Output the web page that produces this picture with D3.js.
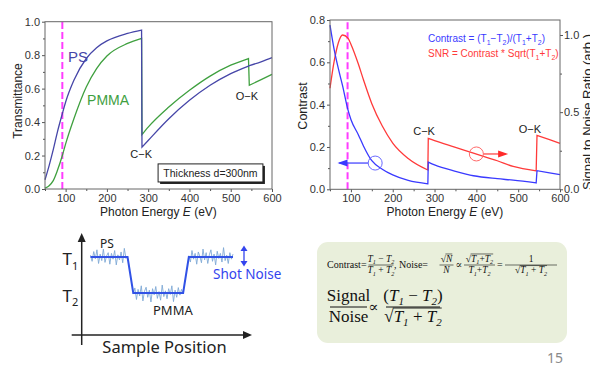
<!DOCTYPE html>
<html>
<head>
<meta charset="utf-8">
<script src="https://cdn.jsdelivr.net/npm/d3@7"></script>
<style>
  body { margin: 0; background: #fff; }
  svg { display: block; }
</style>
</head>
<body>
<svg id="slide" width="590" height="367"></svg>
<script>
const SANS = '"Liberation Sans", Arial, sans-serif';
const SERIF = '"Liberation Serif", "Times New Roman", "DejaVu Serif", serif';
const NOTO = '"Noto Sans", "Open Sans", sans-serif';

// Left panel: transmittance of 300 nm films (photon energy in eV)
const eLow = [50, 60, 70, 80, 92, 100, 120, 150, 175, 200, 250, 284];
const psLow = [0.055, 0.14, 0.235, 0.34, 0.45, 0.52, 0.65, 0.78, 0.845, 0.885, 0.93, 0.95];
const pmmaLow = [0.005, 0.02, 0.05, 0.11, 0.2, 0.27, 0.42, 0.61, 0.72, 0.795, 0.87, 0.9];
const eMid = [285, 300, 350, 400, 450, 500, 543];
const psMid = [0.25, 0.29, 0.42, 0.53, 0.62, 0.69, 0.735];
const pmmaMid = [0.325, 0.37, 0.49, 0.59, 0.675, 0.74, 0.78];
const eHigh = [545, 575, 600];
const psHigh = [0.737, 0.762, 0.785];
const pmmaHigh = [0.62, 0.655, 0.685];

// Right panel: contrast (left axis) and SNR (right axis)
const cE1 = [50, 60, 70, 80, 93, 100, 118, 130, 150, 175, 200, 237, 284];
const contrast1 = [0.776, 0.66, 0.57, 0.49, 0.375, 0.33, 0.257, 0.205, 0.135, 0.095, 0.068, 0.042, 0.026];
const snr1 = [0.655, 0.83, 0.95, 1.0, 0.98, 0.94, 0.81, 0.71, 0.555, 0.41, 0.3, 0.2, 0.125];
const cE2 = [285, 300, 350, 393, 450, 488, 543];
const contrast2 = [0.128, 0.115, 0.085, 0.064, 0.05, 0.043, 0.03];
const snr2 = [0.33, 0.315, 0.272, 0.234, 0.185, 0.148, 0.12];
const cE3 = [545, 575, 600];
const contrast3 = [0.088, 0.078, 0.069];
const snr3 = [0.35, 0.322, 0.298];

const euvEnergy = 92;

// ticks
const eTicks = [100, 200, 300, 400, 500, 600];
const eMinor = [50, 150, 250, 350, 450, 550];
const tTicks = [0, 0.2, 0.4, 0.6, 0.8, 1.0];
const tMinor = [0.1, 0.3, 0.5, 0.7, 0.9];
const cTicks = [0, 0.2, 0.4, 0.6, 0.8];
const cMinor = [0.1, 0.3, 0.5, 0.7];
const sTicks = [0, 0.5, 1.0];
const sMinor = [0.25, 0.75];

// Schematic: step profile and shot noise (T1 = 1, T2 = 0)
const stepPos = [0, 26, 30, 65, 69, 100];
const stepLevel = [1, 1, 0, 0, 1, 1];
const noisePS1 = [0.05, -0.12, 0.15, -0.05, 0.2, -0.18, 0.08, -0.1, 0.22, -0.15, 0.03, 0.12,
  -0.2, 0.1, -0.06, 0.18, -0.22, 0.06, -0.08, 0.14, -0.16, 0.24, -0.04, 0.02];
const noisePMMA = [-0.03, 0.14, -0.18, 0.1, -0.08, 0.2, -0.22, 0.05, 0.16, -0.12, 0.08, -0.25,
  0.12, -0.05, 0.18, -0.15, 0.04, -0.2, 0.22, -0.1, 0.06, -0.16, 0.12, -0.04, 0.2, -0.24,
  0.08, -0.12, 0.15, -0.06, 0.1, -0.02];
const noisePS2 = [0.04, -0.14, 0.18, -0.06, 0.1, -0.2, 0.14, 0.02, -0.16, 0.22, -0.08, 0.12,
  -0.18, 0.06, 0.2, -0.12, 0.08, -0.22, 0.16, -0.04, 0.1, -0.14, 0.26, -0.1, 0.05, -0.18,
  0.12, -0.06, 0.08];

const svg = d3.select("#slide");

// ---------- helpers
function segPath(x, y, segs) {
  const line = d3.line().x(d => x(d[0])).y(d => y(d[1])).curve(d3.curveMonotoneX);
  return segs.map((s, i) => {
    const p = line(s);
    return i ? "L" + p.slice(1) : p;
  }).join("");
}

function frame(g, x, y) {
  g.append("rect")
    .attr("x", x.range()[0]).attr("y", y.range()[1])
    .attr("width", x.range()[1] - x.range()[0])
    .attr("height", y.range()[0] - y.range()[1])
    .attr("fill", "none").attr("stroke", "#666").attr("stroke-width", 1);
}

function addAxis(g, gen, tx, ty) {
  const a = g.append("g").attr("transform", `translate(${tx},${ty})`).call(gen);
  a.select(".domain").remove();
  a.attr("font-size", 11).attr("font-family", SANS);
  a.selectAll(".tick line").attr("stroke", "#555");
  a.selectAll(".tick text").attr("fill", "#333");
  return a;
}

function axesFor(g, x, y, yTicks, yMinor) {
  const bottom = y.range()[0], left = x.range()[0];
  addAxis(g, d3.axisBottom(x).tickValues(eTicks).tickSize(3).tickPadding(2), 0, bottom);
  addAxis(g, d3.axisBottom(x).tickValues(eMinor).tickSize(2).tickFormat(""), 0, bottom);
  addAxis(g, d3.axisLeft(y).tickValues(yTicks).tickSize(3).tickPadding(2).tickFormat(d3.format(".1f")), left, 0);
  addAxis(g, d3.axisLeft(y).tickValues(yMinor).tickSize(2).tickFormat(""), left, 0);
}

function label(g, x, y, txt, size, color, rot) {
  const t = g.append("text").attr("font-family", SANS).attr("font-size", size)
    .attr("fill", color).attr("text-anchor", "middle").text(txt);
  if (rot) t.attr("transform", `translate(${x},${y}) rotate(-90)`);
  else t.attr("x", x).attr("y", y);
  return t;
}

function energyLabel(g, cx, y) {
  const t = g.append("text").attr("x", cx).attr("y", y).attr("font-family", SANS)
    .attr("font-size", 12).attr("fill", "#222").attr("text-anchor", "middle");
  t.append("tspan").text("Photon Energy ");
  t.append("tspan").attr("font-style", "italic").text("E");
  t.append("tspan").text(" (eV)");
}

function arrowHead(g, tipX, tipY, dir, len, half, color) {
  g.append("path")
    .attr("d", `M${tipX},${tipY}L${tipX - dir * len},${tipY - half}L${tipX - dir * len},${tipY + half}Z`)
    .attr("fill", color);
}

// ---------- left panel
const gl = svg.append("g");
const xL = d3.scaleLinear().domain([50, 600]).range([45, 272]);
const yL = d3.scaleLinear().domain([0, 1]).range([189, 21.7]);

axesFor(gl, xL, yL, tTicks, tMinor);

gl.append("line")
  .attr("x1", xL(euvEnergy)).attr("x2", xL(euvEnergy))
  .attr("y1", yL(0)).attr("y2", yL(1))
  .attr("stroke", "#ff3cff").attr("stroke-width", 2).attr("stroke-dasharray", "7,3");

gl.append("path")
  .attr("d", segPath(xL, yL, [d3.zip(eLow, pmmaLow), d3.zip(eMid, pmmaMid), d3.zip(eHigh, pmmaHigh)]))
  .attr("fill", "none").attr("stroke", "#3fa03f").attr("stroke-width", 1.3);
gl.append("path")
  .attr("d", segPath(xL, yL, [d3.zip(eLow, psLow), d3.zip(eMid, psMid), d3.zip(eHigh, psHigh)]))
  .attr("fill", "none").attr("stroke", "#4646a8").attr("stroke-width", 1.3);

frame(gl, xL, yL);

gl.append("text").attr("x", xL(106)).attr("y", yL(0.76)).attr("font-family", SANS)
  .attr("font-size", 15).attr("fill", "#4646a8").text("PS");
gl.append("text").attr("x", xL(152)).attr("y", yL(0.5)).attr("font-family", SANS)
  .attr("font-size", 14).attr("fill", "#3fa03f").text("PMMA");
label(gl, xL(283), yL(0.185), "C\u2212K", 11, "#222");
label(gl, xL(539), yL(0.532), "O\u2212K", 11, "#222");

// thickness box with drop shadow
const bx0 = xL(324), bx1 = xL(578), by0 = yL(0.15), by1 = yL(0.042);
gl.append("rect").attr("x", bx0 + 2).attr("y", by0 + 2).attr("width", bx1 - bx0).attr("height", by1 - by0)
  .attr("fill", "#222");
gl.append("rect").attr("x", bx0).attr("y", by0).attr("width", bx1 - bx0).attr("height", by1 - by0)
  .attr("fill", "#fff").attr("stroke", "#222").attr("stroke-width", 1);
label(gl, (bx0 + bx1) / 2, yL(0.074), "Thickness d=300nm", 10.5, "#222");

label(gl, 21.5, 101, "Transmittance", 12, "#222", true);
energyLabel(gl, (xL(50) + xL(600)) / 2, 216);

// ---------- right panel
const gr = svg.append("g");
const xR = d3.scaleLinear().domain([50, 600]).range([330, 560]);
const yR = d3.scaleLinear().domain([0, 0.8]).range([189.3, 20]);
const yS = d3.scaleLinear().domain([0, 1]).range([189.3, 35]);

axesFor(gr, xR, yR, cTicks, cMinor);
addAxis(gr, d3.axisRight(yS).tickValues(sTicks).tickSize(3).tickPadding(1).tickFormat(d3.format(".1f")), 560, 0);
addAxis(gr, d3.axisRight(yS).tickValues(sMinor).tickSize(2).tickFormat(""), 560, 0);

gr.append("line")
  .attr("x1", xR(euvEnergy)).attr("x2", xR(euvEnergy))
  .attr("y1", yR(0)).attr("y2", yR(0.8))
  .attr("stroke", "#ff3cff").attr("stroke-width", 2).attr("stroke-dasharray", "7,3");

gr.append("path")
  .attr("d", segPath(xR, yS, [d3.zip(cE1, snr1), d3.zip(cE2, snr2), d3.zip(cE3, snr3)]))
  .attr("fill", "none").attr("stroke", "#ff3a3a").attr("stroke-width", 1.3);
gr.append("path")
  .attr("d", segPath(xR, yR, [d3.zip(cE1, contrast1), d3.zip(cE2, contrast2), d3.zip(cE3, contrast3)]))
  .attr("fill", "none").attr("stroke", "#3a3aff").attr("stroke-width", 1.3);

frame(gr, xR, yR);

// circle + arrow markers pointing at the axes
const bcx = xR(158), bcy = yR(0.124);
gr.append("circle").attr("cx", bcx).attr("cy", bcy).attr("r", 7)
  .attr("fill", "none").attr("stroke", "#6a6aff").attr("stroke-width", 1);
gr.append("line").attr("x1", bcx - 7).attr("x2", xR(72)).attr("y1", bcy).attr("y2", bcy)
  .attr("stroke", "#6a6aff").attr("stroke-width", 1.6);
arrowHead(gr, xR(68), bcy, -1, 10, 3.5, "#3a3aff");

const rcx = xR(400), rcy = yS(0.229);
gr.append("circle").attr("cx", rcx).attr("cy", rcy).attr("r", 7)
  .attr("fill", "none").attr("stroke", "#ff6a6a").attr("stroke-width", 1);
gr.append("line").attr("x1", rcx + 7).attr("x2", xR(470)).attr("y1", rcy).attr("y2", rcy)
  .attr("stroke", "#ff6a6a").attr("stroke-width", 1.6);
arrowHead(gr, xR(476), rcy, 1, 10, 3.5, "#ff2a2a");

label(gr, xR(275), yR(0.257), "C\u2212K", 11, "#222");
label(gr, xR(528), yR(0.266), "O\u2212K", 11, "#222");

function legendLine(g, x, y, color, parts) {
  const t = g.append("text").attr("x", x).attr("y", y).attr("font-family", SANS)
    .attr("font-size", 10).attr("fill", color);
  let shift = 0;
  for (const [s, sub] of parts) {
    const sp = t.append("tspan").text(s);
    const want = sub ? 2.5 : 0;
    if (want !== shift) { sp.attr("dy", want - shift); shift = want; }
    if (sub) sp.attr("font-size", 7);
  }
}
legendLine(gr, 428, 42, "#3a3aff", [["Contrast = (T", 0], ["1", 1], ["\u2212T", 0], ["2", 1],
  [")/(T", 0], ["1", 1], ["+T", 0], ["2", 1], [")", 0]]);
legendLine(gr, 428, 57, "#ff3a3a", [["SNR = Contrast * Sqrt(T", 0], ["1", 1], ["+T", 0], ["2", 1], [")", 0]]);

label(gr, 306.5, 106, "Contrast", 12.5, "#222", true);
label(gr, 592, 112, "Signal to Noise Ratio (arb.)", 13, "#222", true);
energyLabel(gr, (xR(50) + xR(600)) / 2, 216);

// ---------- schematic (bottom left)
const gs = svg.append("g");
const sx = d3.scaleLinear().domain([0, 100]).range([90.5, 233]);
const sy = d3.scaleLinear().domain([0, 1]).range([293, 257]);

const noiseLine = d3.line().x(d => sx(d[0])).y(d => sy(d[1]));
[[0, 26, 1, noisePS1], [30, 65, 0, noisePMMA], [69, 100, 1, noisePS2]].forEach(([a, b, lvl, vals]) => {
  const pts = vals.map((v, i) => [a + i * (b - a) / (vals.length - 1), lvl + v]);
  gs.append("path").attr("d", noiseLine(pts))
    .attr("fill", "none").attr("stroke", "#7fa9d6").attr("stroke-width", 0.9);
});
gs.append("path").attr("d", noiseLine(d3.zip(stepPos, stepLevel)))
  .attr("fill", "none").attr("stroke", "#3152e6").attr("stroke-width", 2);

// axes arrows
gs.append("line").attr("x1", 81.7).attr("x2", 81.7).attr("y1", 345).attr("y2", 240)
  .attr("stroke", "#222").attr("stroke-width", 1.5);
gs.append("path").attr("d", "M81.7,233L77.7,242L85.7,242Z").attr("fill", "#222");
gs.append("line").attr("x1", 71.7).attr("x2", 245).attr("y1", 335).attr("y2", 335)
  .attr("stroke", "#222").attr("stroke-width", 1.5);
arrowHead(gs, 252, 335, 1, 9, 4, "#222");

function tLabel(y, sub) {
  const t = gs.append("text").attr("x", 62.5).attr("y", y).attr("font-family", NOTO)
    .attr("font-size", 17).attr("fill", "#222");
  t.append("tspan").text("T");
  t.append("tspan").attr("dy", 4.5).attr("font-size", 11).text(sub);
}
tLabel(sy(1) + 8, "1");
tLabel(sy(0) + 8.5, "2");

gs.append("text").attr("x", 100).attr("y", 248).attr("font-family", NOTO)
  .attr("font-size", 12).attr("fill", "#222").text("PS");
gs.append("text").attr("x", 153).attr("y", 315).attr("font-family", NOTO)
  .attr("font-size", 13).attr("fill", "#222").text("PMMA");

// shot noise double arrow
gs.append("line").attr("x1", 244).attr("x2", 244).attr("y1", 250).attr("y2", 262)
  .attr("stroke", "#3344ee").attr("stroke-width", 1.3);
gs.append("path").attr("d", "M244,245.5L240.5,251L247.5,251Z").attr("fill", "#3344ee");
gs.append("path").attr("d", "M244,266.5L240.5,261L247.5,261Z").attr("fill", "#3344ee");
gs.append("text").attr("x", 213).attr("y", 279).attr("font-family", NOTO)
  .attr("font-size", 13.5).attr("fill", "#3344ee").text("Shot Noise");

gs.append("text").attr("x", 164.5).attr("y", 353).attr("text-anchor", "middle")
  .attr("font-family", NOTO).attr("font-size", 16.5).attr("fill", "#222").text("Sample Position");

// ---------- formula box (bottom right)
const gf = svg.append("g");
gf.append("rect").attr("x", 317).attr("y", 242).attr("width", 250).attr("height", 101)
  .attr("rx", 11).attr("fill", "#e9efdb");

function mathText(g, x, y, parts, size, anchor) {
  const t = g.append("text").attr("x", x).attr("y", y).attr("font-size", size)
    .attr("font-family", SERIF).attr("text-anchor", anchor || "start").attr("fill", "#111");
  let shift = 0;
  for (const [s, k] of parts) {
    const sp = t.append("tspan").text(s);
    const sub = k.indexOf("s") >= 0;
    const want = sub ? size * 0.25 : 0;
    if (want !== shift) { sp.attr("dy", want - shift); shift = want; }
    if (sub) sp.attr("font-size", size * 0.65);
    if (k.indexOf("i") >= 0) sp.attr("font-style", "italic");
  }
  return t;
}

function overline(g, t, size) {
  const node = t.node();
  const n = node.getNumberOfChars();
  const x0 = node.getEndPositionOfChar(0).x - size * 0.05;
  const x1 = node.getEndPositionOfChar(n - 1).x;
  const y = +t.attr("y") - size * 0.8;
  g.append("line").attr("x1", x0).attr("x2", x1).attr("y1", y).attr("y2", y)
    .attr("stroke", "#111").attr("stroke-width", size > 12 ? 0.9 : 0.6);
}

function frac(g, cx, yBar, w, num, den, size) {
  g.append("line").attr("x1", cx - w / 2).attr("x2", cx + w / 2).attr("y1", yBar).attr("y2", yBar)
    .attr("stroke", "#111").attr("stroke-width", size > 12 ? 1 : 0.6);
  const tn = mathText(g, cx, yBar - size * 0.36, num, size, "middle");
  const td = mathText(g, cx, yBar + size * 0.86, den, size, "middle");
  if (num[0][0] === "\u221a") overline(g, tn, size);
  if (den[0][0] === "\u221a") overline(g, td, size);
}

const tDiff = [["T", "i"], ["1", "is"], [" \u2212 ", ""], ["T", "i"], ["2", "is"]];
const tSum = [["T", "i"], ["1", "is"], [" + ", ""], ["T", "i"], ["2", "is"]];
const tSumTight = [["T", "i"], ["1", "is"], ["+", ""], ["T", "i"], ["2", "is"]];
const sqrtSum = [["\u221a", ""]].concat(tSum);

mathText(gf, 327, 268, [["Contrast=", ""]], 10);
frac(gf, 381, 265, 25, tDiff, tSum, 9.5);
mathText(gf, 394, 268, [[",  Noise=", ""]], 10);
frac(gf, 446.5, 265, 14, [["\u221a", ""], ["N", "i"]], [["N", "i"]], 9.5);
mathText(gf, 455.5, 268, [["\u221d", ""]], 10);
frac(gf, 479.5, 265, 31, [["\u221a", ""]].concat(tSumTight), tSumTight, 9.5);
mathText(gf, 497, 268, [["=", ""]], 10);
frac(gf, 531, 265, 52, [["1", ""]], sqrtSum, 9.5);

frac(gf, 348.5, 307, 37, [["Signal", ""]], [["Noise", ""]], 17);
mathText(gf, 368.5, 312, [["\u221d", ""]], 15);
frac(gf, 413, 307, 54, [["(", ""]].concat(tDiff, [[")", ""]]), sqrtSum, 17);

// page number
svg.append("text").attr("x", 555).attr("y", 363).attr("text-anchor", "middle")
  .attr("font-family", NOTO).attr("font-size", 14).attr("fill", "#8a8a8a").text("15");
</script>
</body>
</html>
